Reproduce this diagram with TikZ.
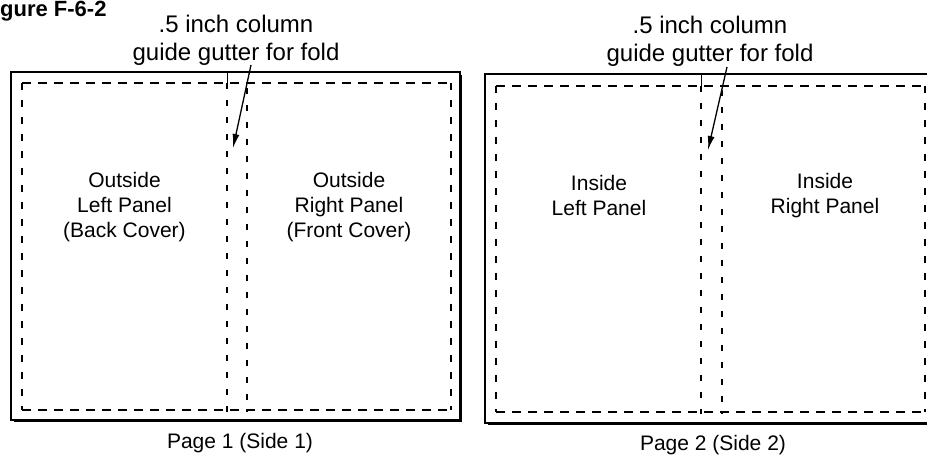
\documentclass[tikz,border=0pt]{standalone}
\usepackage{fontspec}
\setmainfont{Liberation Sans}
\usetikzlibrary{arrows.meta}
\begin{document}
\begin{tikzpicture}[x=1pt,y=-1pt,
  page/.style={draw=black,line width=1.2pt},
  pshadow/.style={draw=black,line width=2.6pt},
  hdash/.style={draw=black,line width=1.6pt,dash pattern=on 9pt off 7pt},
  vdash/.style={draw=black,line width=1.4pt,dash pattern=on 7pt off 10pt},
  gdash/.style={draw=black,line width=1.2pt,dash pattern=on 6pt off 11pt},
  foldline/.style={draw=black,line width=0.8pt},
  lbl/.style={inner sep=0pt,font=\fontsize{24}{28}\selectfont,align=center},
  panel/.style={inner sep=0pt,font=\fontsize{21}{25}\selectfont,align=center},
  pagelbl/.style={inner sep=0pt,font=\fontsize{21}{25}\selectfont,anchor=base},
  ptr/.style={draw=black,line width=1.3pt,-{Latex[length=14pt,width=7pt]}}
]
\useasboundingbox (0,0) rectangle (927,462);

% figure heading
\node[inner sep=0pt,anchor=base west,font=\bfseries\fontsize{22}{26}\selectfont] (fig) at (0,17) {gure F-6-2};

% ---------- Page 1 ----------
\draw[page] (11,72) rectangle (460,420);
\draw[pshadow] (14,421) -- (461,421) -- (461,75);
\draw[hdash] (22,83) -- (451,83);
\draw[hdash] (22,410) -- (451,410);
\draw[vdash] (22,83) -- (22,410);
\draw[vdash] (451,83) -- (451,410);
\draw[foldline] (227,72) -- (227,83);
\draw[gdash] (227,83) -- (227,412);
\draw[gdash] (247,88) -- (247,412);

\node[lbl] (t1) at (236,39.8) {.5 inch column\\guide gutter for fold};
\coordinate (a1s) at (251,65);
\coordinate (a1e) at (233,148);
\draw[ptr] (a1s) -- (a1e);

\node[panel] (p1) at (124.5,207.5) {Outside\\Left Panel\\(Back Cover)};
\node[panel] (p2) at (349,207.5) {Outside\\Right Panel\\(Front Cover)};
\node[pagelbl] (s1) at (240,448) {Page 1 (Side 1)};

% ---------- Page 2 ----------
\draw[page] (927,74) -- (485,74) -- (485,423) -- (927,423);
\draw[pshadow] (488,424) -- (927,424);
\draw[hdash] (496,86) -- (925,86);
\draw[hdash] (496,412) -- (925,412);
\draw[vdash] (496,86) -- (496,412);
\draw[vdash] (925,86) -- (925,412);
\draw[foldline] (701,74) -- (701,86);
\draw[gdash] (701,86) -- (701,414);
\draw[gdash] (722,90) -- (722,414);

\node[lbl] (t2) at (710,41.5) {.5 inch column\\guide gutter for fold};
\coordinate (a2s) at (727,67);
\coordinate (a2e) at (708,150);
\draw[ptr] (a2s) -- (a2e);

\node[panel] (p3) at (599,195.5) {Inside\\Left Panel};
\node[panel] (p4) at (825,195.5) {Inside\\Right Panel};
\node[pagelbl] (s2) at (713,450) {Page 2 (Side 2)};
\end{tikzpicture}
\end{document}
